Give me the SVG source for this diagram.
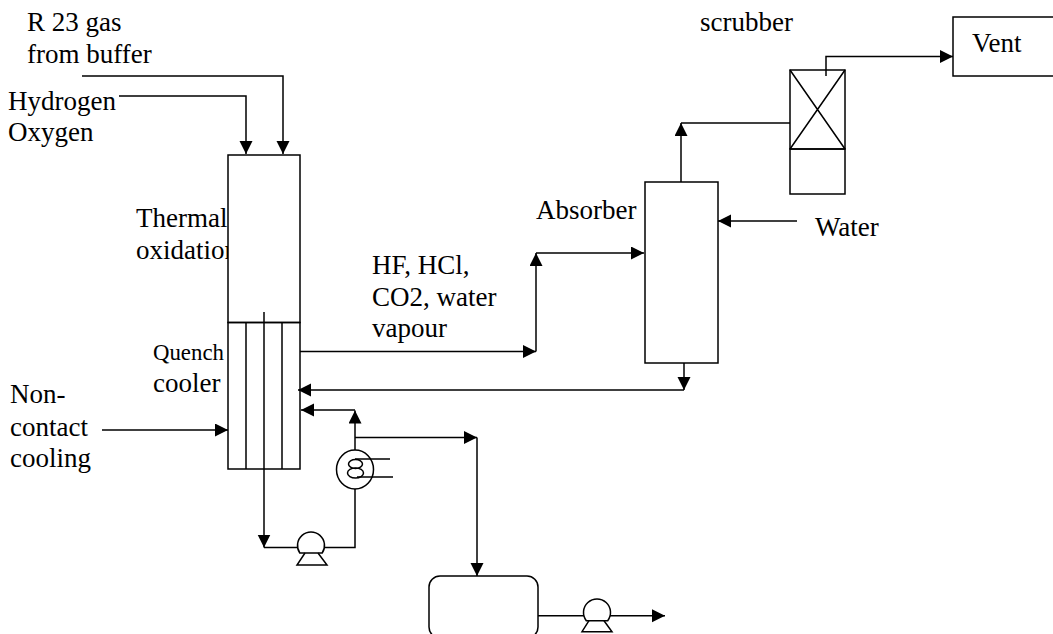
<svg xmlns="http://www.w3.org/2000/svg" width="1053" height="634" viewBox="0 0 1053 634">
<style>
.l{fill:none;stroke:#000;stroke-width:1.5}
.n{fill:#fff;stroke:#000;stroke-width:1.5}
text{font-family:"Liberation Serif","Times New Roman",serif;font-size:27px;fill:#000}
</style>
<defs>
<marker id="a" markerUnits="userSpaceOnUse" markerWidth="14" markerHeight="14" refX="13" refY="6.5" orient="auto"><path d="M0 0L13 6.5L0 13Z" fill="#000"/></marker>
</defs>
<rect width="1053" height="634" fill="#fff"/>
<g id="labels">
<text x="27" y="31">R 23 gas</text>
<text x="27" y="63">from buffer</text>
<text x="8" y="110">Hydrogen</text>
<text x="8" y="141">Oxygen</text>
<text x="136" y="227">Thermal</text>
<text x="136" y="259">oxidation</text>
<text x="372" y="274">HF, HCl,</text>
<text x="372" y="306">CO2, water</text>
<text x="372" y="337">vapour</text>
<text x="536" y="219">Absorber</text>
<text x="700" y="31">scrubber</text>
<text x="972" y="52">Vent</text>
<text x="815" y="236">Water</text>
<text x="153" y="360" style="font-size:22.800px">Quench</text>
<text x="153" y="392">cooler</text>
<text x="10" y="403">Non-</text>
<text x="10" y="436">contact</text>
<text x="10" y="467">cooling</text>
</g>
<g id="thermal"><rect class="n" x="228" y="155" width="72" height="167.500"/></g>
<g id="quench"><rect class="l" x="228" y="322.500" width="72" height="146.500"/><path class="l" d="M246 322.500V469M282 322.500V469"/></g>
<g id="absorber"><rect class="l" x="645" y="182" width="73" height="181"/></g>
<g id="scrubber"><rect class="l" x="790" y="70" width="55" height="79"/><path class="l" d="M790 70L845 149M845 70L790 149"/><rect class="l" x="790" y="149" width="55" height="45"/></g>
<g id="vent"><rect class="l" x="953" y="17" width="101" height="59"/></g>
<g id="exchanger"><ellipse class="n" cx="355" cy="469.500" rx="18.500" ry="19.500"/><path class="l" d="M355 459H390M357 477H393"/><ellipse class="l" cx="355.500" cy="464" rx="7" ry="4.500"/><ellipse class="l" cx="355.500" cy="473" rx="8" ry="5"/></g>
<g id="pump1"><path class="n" d="M299.800 553A13.500 13.500 0 1 1 322.200 553Z"/><path class="l" d="M305 553L297 565H327L318 553"/></g>
<g id="tank"><rect class="l" x="429" y="576" width="109" height="62" rx="11"/></g>
<g id="pump2"><path class="n" d="M586.300 620.700A13.500 13.500 0 1 1 607.700 620.700Z"/><path class="l" d="M589 620.700L582 631.700H612L604 620.700"/></g>
<g id="connectors">
<path class="l" d="M82 76H283V154" marker-end="url(#a)"/>
<path class="l" d="M119 96H246V154" marker-end="url(#a)"/>
<path class="l" d="M102 430H228" marker-end="url(#a)"/>
<path class="l" d="M300 351.500H536" marker-end="url(#a)"/>
<path class="l" d="M536 351.500V253" marker-end="url(#a)"/>
<path class="l" d="M536 253H644" marker-end="url(#a)"/>
<path class="l" d="M681 182V123" marker-end="url(#a)"/>
<path class="l" d="M681 123H790"/>
<path class="l" d="M826 76V56.500H953" marker-end="url(#a)"/>
<path class="l" d="M797 221H718" marker-end="url(#a)"/>
<path class="l" d="M684 363V390" marker-end="url(#a)"/>
<path class="l" d="M684 390H298" marker-end="url(#a)"/>
<path class="l" d="M355 410H301" marker-end="url(#a)"/>
<path class="l" d="M355 450V410.500" marker-end="url(#a)"/>
<path class="l" d="M355 437.500H477" marker-end="url(#a)"/>
<path class="l" d="M477 437.500V576" marker-end="url(#a)"/>
<path class="l" d="M264 312V547.500" marker-end="url(#a)"/>
<path class="l" d="M264 547.500H298"/>
<path class="l" d="M324.500 547.500H355V489"/>
<path class="l" d="M538 615.700H584"/>
<path class="l" d="M610 615.700H665" marker-end="url(#a)"/>
</g>
</svg>
